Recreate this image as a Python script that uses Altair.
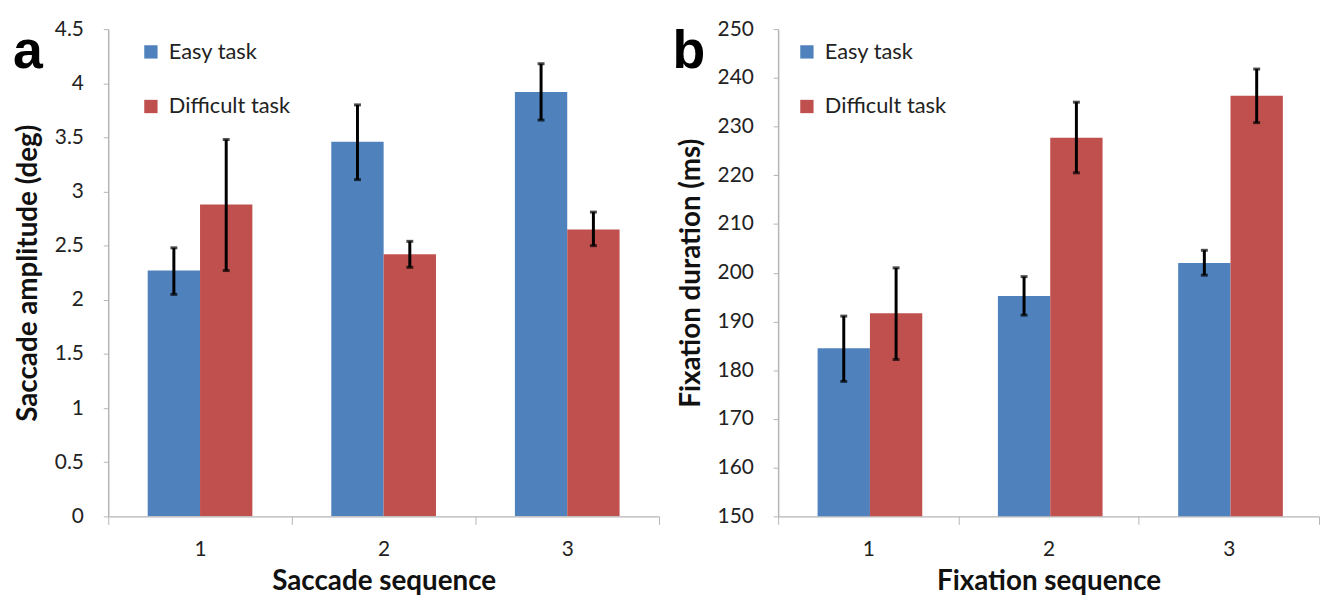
import altair as alt
import pandas as pd

sequence = ["1", "2", "3"]
tasks = ["Easy task", "Difficult task"]

# Panel a: saccade amplitude (deg)
amp_easy = [2.27, 3.46, 3.92]
amp_easy_lo = [2.05, 3.11, 3.66]
amp_easy_hi = [2.48, 3.80, 4.18]
amp_diff = [2.88, 2.42, 2.65]
amp_diff_lo = [2.27, 2.30, 2.50]
amp_diff_hi = [3.48, 2.54, 2.81]

# Panel b: fixation duration (ms)
dur_easy = [184.5, 195.2, 202.0]
dur_easy_lo = [177.7, 191.3, 199.5]
dur_easy_hi = [191.1, 199.2, 204.6]
dur_diff = [191.7, 227.7, 236.3]
dur_diff_lo = [182.2, 220.5, 230.8]
dur_diff_hi = [201.0, 235.0, 241.8]

amp_ticks = [0, 0.5, 1, 1.5, 2, 2.5, 3, 3.5, 4, 4.5]
dur_ticks = [150, 160, 170, 180, 190, 200, 210, 220, 230, 240, 250]

BLUE = "#4F81BD"
RED = "#C0504D"
FONT = "Lato"


def make_df(e, elo, ehi, d, dlo, dhi):
    rows = []
    for i, s in enumerate(sequence):
        rows.append({"seq": s, "task": tasks[0], "value": e[i], "lo": elo[i], "hi": ehi[i]})
        rows.append({"seq": s, "task": tasks[1], "value": d[i], "lo": dlo[i], "hi": dhi[i]})
    return pd.DataFrame(rows)


def panel(df, ydom, yvals, ytitle, xtitle, letter, width, legend_x, letter_x):
    base = alt.Chart(df)
    x = alt.X("seq:N", sort=sequence,
              scale=alt.Scale(paddingInner=0, paddingOuter=0),
              axis=alt.Axis(title=xtitle, labelAngle=0, tickBand="extent", tickSize=8,
                            labelPadding=14, titlePadding=9, labelFontSize=21,
                            titleFontSize=28, titleFontWeight="bold"))
    xo = alt.XOffset("task:N", sort=tasks, scale=alt.Scale(paddingOuter=0.754, paddingInner=0))
    y = alt.Y("value:Q", scale=alt.Scale(domain=ydom, nice=False, zero=False),
              axis=alt.Axis(values=yvals, format="~r", title=ytitle, tickSize=5,
                            labelPadding=20, titlePadding=12, labelFontSize=21,
                            titleFontSize=28, titleFontWeight="bold"))
    bars = base.mark_bar(clip=True).encode(
        x=x, xOffset=xo, y=y,
        color=alt.Color("task:N", sort=tasks,
                        scale=alt.Scale(domain=tasks, range=[BLUE, RED]),
                        legend=alt.Legend(orient="none", legendX=legend_x, legendY=12, title=None,
                                          symbolType="square", symbolSize=180,
                                          symbolStrokeWidth=0, labelFontSize=22,
                                          labelFont=FONT, rowPadding=33, labelOffset=7,
                                          labelColor="#222")),
    )
    rules = base.mark_rule(color="black", strokeWidth=3).encode(
        x=alt.X("seq:N", sort=sequence), xOffset=alt.XOffset("task:N", sort=tasks),
        y=alt.Y("lo:Q"), y2="hi:Q")
    cap_lo = base.mark_tick(color="black", size=7, thickness=3).encode(
        x=alt.X("seq:N", sort=sequence), xOffset=alt.XOffset("task:N", sort=tasks),
        y=alt.Y("lo:Q"))
    cap_hi = base.mark_tick(color="black", size=7, thickness=3).encode(
        x=alt.X("seq:N", sort=sequence), xOffset=alt.XOffset("task:N", sort=tasks),
        y=alt.Y("hi:Q"))
    txt = alt.Chart(pd.DataFrame({"t": [letter]})).mark_text(
        font="Liberation Sans", fontWeight="bold", fontSize=54, align="center",
        baseline="alphabetic", color="black").encode(
        text="t:N", x=alt.value(letter_x), y=alt.value(39))
    return alt.layer(bars, rules, cap_lo, cap_hi, txt).properties(width=width, height=491)


df_a = make_df(amp_easy, amp_easy_lo, amp_easy_hi, amp_diff, amp_diff_lo, amp_diff_hi)
df_b = make_df(dur_easy, dur_easy_lo, dur_easy_hi, dur_diff, dur_diff_lo, dur_diff_hi)

left = panel(df_a, [0, 4.5], amp_ticks, "Saccade amplitude (deg)", "Saccade sequence", "a", 555, 32, -81)
right = panel(df_b, [150, 250], dur_ticks, "Fixation duration (ms)", "Fixation sequence", "b", 545, 18, -90)

chart = alt.hconcat(left, right, spacing=12).resolve_scale(
    color="independent").resolve_legend(color="independent").properties(
    padding={"left": 4, "top": 8, "right": 0, "bottom": 0}
).configure(font=FONT).configure_axis(
    labelFont=FONT, titleFont=FONT, domainColor="#b5b5b5", tickColor="#b5b5b5",
    labelColor="#222222", titleColor="#111111", grid=False, domainWidth=1.5
).configure_view(stroke=None)

chart.save("out.html", embed_options={"renderer": "svg", "actions": False})
